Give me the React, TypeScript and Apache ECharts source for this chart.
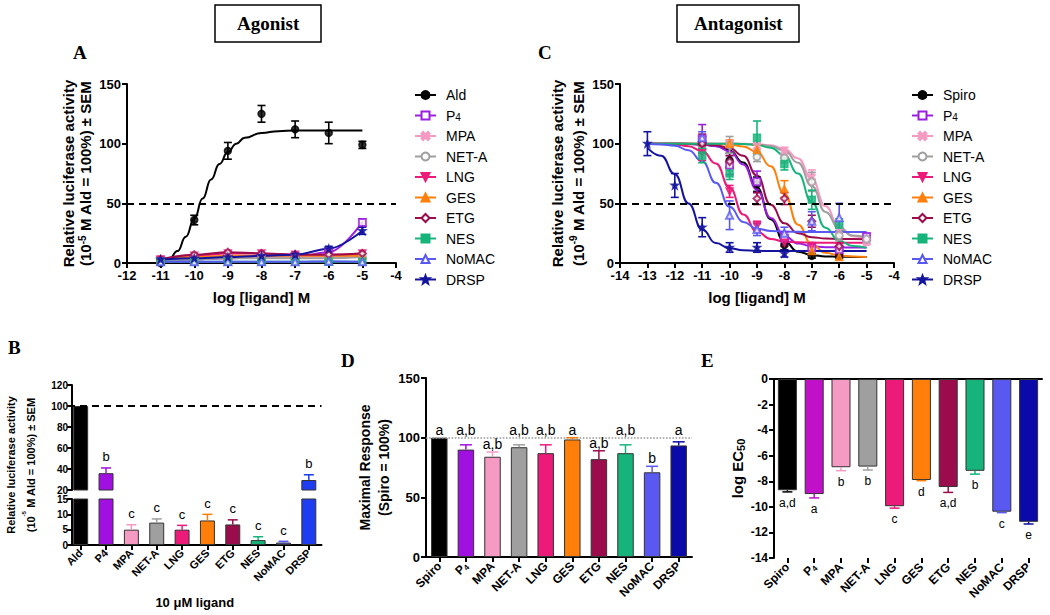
import React, { useEffect, useRef } from 'react';
import * as echarts from 'echarts';

// ---------------- Panel A (agonist) ----------------
const agonistNames = ['Ald', 'P4', 'MPA', 'NET-A', 'LNG', 'GES', 'ETG', 'NES', 'NoMAC', 'DRSP'];
const agonistDoses = [-11, -10, -9, -8, -7, -6, -5];
const aldMean = [0, 36, 94, 125, 112, 109, 99];
const aldSem = [1, 4, 7, 7, 7, 9, 3];
const aldFitX = [-11, -10.75, -10.5, -10.25, -10, -9.75, -9.5, -9.25, -9, -8.75, -8.5, -8, -7.5, -7, -6, -5];
const aldFitY = [0, 3, 10, 22, 37, 54, 70, 83, 93, 100, 105, 109, 110.5, 111, 111, 111];
const agP4Mean = [2, 3, 4, 5, 5, 9, 34];
const agP4Sem = [0.5, 0.5, 1, 1, 1, 2, 3];
const agMPAMean = [3, 4, 5, 5, 5, 5, 6];
const agNETAMean = [2, 3, 4, 4, 4, 4, 5];
const agLNGMean = [3, 6, 8, 8, 7, 7, 8];
const agGESMean = [3, 5, 6, 6, 6, 6, 6];
const agETGMean = [3, 7, 9, 8, 7, 7, 8];
const agNESMean = [1, 1, 1, 1, 1, 1, 1];
const agNoMACMean = [1, 1, 1, 1, 1, 1.5, 1];
const agDRSPMean = [3, 4, 5, 6, 7, 12, 27];
const agDRSPSem = [0.5, 0.5, 1, 1, 1, 2, 3];

// ---------------- Panel C (antagonist) ----------------
const antagonistNames = ['Spiro', 'P4', 'MPA', 'NET-A', 'LNG', 'GES', 'ETG', 'NES', 'NoMAC', 'DRSP'];
const antagFitX = [-13, -12.5, -12, -11.5, -11, -10.5, -10, -9.5, -9, -8.5, -8, -7.5, -7, -6.5, -6, -5.5, -5];
const spiroFit = [100, 100, 99.9, 99.8, 99.4, 98.1, 94.3, 84.2, 63.2, 36.7, 18.0, 9.5, 6.5, 5.5, 5.2, 5.1, 5.0];
const p4Fit = [100, 100, 99.9, 99.8, 99.3, 97.8, 93.6, 82.6, 61.5, 37.8, 22.7, 16.3, 14.1, 13.3, 13.1, 13.0, 13.0];
const mpaFit = [100, 100, 100, 100, 100, 100, 100, 99.9, 99.5, 98.6, 95.6, 87.6, 70.5, 47.5, 30.4, 22.4, 19.4];
const netaFit = [100, 100, 100, 100, 100, 100, 100, 99.8, 99.4, 98.0, 94.1, 84.0, 64.6, 42.8, 29.0, 23.0, 21.0];
const lngFit = [99.9, 99.8, 99.3, 97.9, 93.9, 83.4, 63.2, 40.7, 26.3, 20.2, 18.0, 17.3, 17.1, 17, 17, 17, 17];
const gesFit = [100, 100, 100, 100, 100, 99.8, 99.2, 97.6, 93.0, 81.0, 57.9, 32.1, 15.6, 8.6, 6.2, 5.4, 5.1];
const etgFit = [100, 100, 100, 99.9, 99.6, 98.7, 96.1, 89.8, 73.3, 48.8, 33.3, 25.0, 21.6, 20.5, 20.2, 20.1, 20.0];
const nesFit = [100, 100, 100, 100, 100, 100, 100, 99.7, 98.9, 96.6, 90.1, 74.9, 51.0, 29.6, 18.5, 14.2, 12.7];
const nomacFit = [99.8, 99.4, 98.2, 94.5, 85.2, 67.2, 47.1, 34.3, 28.8, 26.9, 26.3, 26.1, 26, 26, 26, 26, 26];
const drspFit = [96.6, 89.9, 74.4, 49.9, 28.0, 16.7, 12.3, 10.7, 10.2, 10.1, 10, 10, 10, 10, 10, 10, 10];

const spiroPtsX = [-11, -10, -9, -8, -7, -6];
const spiroPtsY = [101, 86, 66, 15, 6, 6];
const spiroPtsE = [5, 6, 6, 4, 2, 2];
const p4PtsX = [-11, -10, -9, -8, -7, -6, -5];
const p4PtsY = [104, 82, 68, 21, 13, 11, 22];
const p4PtsE = [12, 8, 9, 5, 3, 3, 3];
const mpaPtsX = [-10, -9, -8, -7, -6, -5];
const mpaPtsY = [100, 98, 93, 72, 27, 18];
const mpaPtsE = [3, 3, 4, 6, 5, 3];
const netaPtsX = [-10, -9, -8, -7, -6, -5];
const netaPtsY = [99, 89, 88, 68, 23, 20];
const netaPtsE = [7, 4, 4, 8, 4, 3];
const lngPtsX = [-11, -10, -9, -8, -7, -6];
const lngPtsY = [92, 60, 31, 17, 14, 14];
const lngPtsE = [6, 5, 4, 3, 3, 3];
const gesPtsX = [-10, -9, -8, -7, -6];
const gesPtsY = [100, 95, 62, 10, 5];
const gesPtsE = [3, 4, 7, 3, 2];
const etgPtsX = [-11, -10, -9, -8, -7, -6];
const etgPtsY = [100, 85, 54, 54, 35, 14];
const etgPtsE = [8, 5, 5, 5, 5, 3];
const nesPtsX = [-11, -10, -9, -8, -7, -6];
const nesPtsY = [90, 75, 105, 83, 53, 32];
const nesPtsE = [6, 5, 14, 5, 8, 5];
const nomacPtsX = [-11, -10, -9, -8, -7, -6];
const nomacPtsY = [105, 40, 28, 25, 35, 38];
const nomacPtsE = [5, 12, 5, 5, 8, 12];
const drspPtsX = [-13, -12, -11, -10, -9, -8];
const drspPtsY = [100, 65, 30, 13, 13, 8];
const drspPtsE = [10, 10, 8, 4, 4, 3];

// ---------------- Panel B ----------------
const bLabels = ['Ald', 'P4', 'MPA', 'NET-A', 'LNG', 'GES', 'ETG', 'NES', 'NoMAC', 'DRSP'];
const bMean = [100, 36, 5, 7.3, 5, 8, 6.7, 1.6, 0.8, 29.5];
const bSem = [0, 5, 1.6, 1.2, 1.4, 2, 1.5, 1.1, 0.4, 5];
const bLetters = ['', 'b', 'c', 'c', 'c', 'c', 'c', 'c', 'c', 'b'];

// ---------------- Panel D ----------------
const dLabels = ['Spiro', 'P4', 'MPA', 'NET-A', 'LNG', 'GES', 'ETG', 'NES', 'NoMAC', 'DRSP'];
const dMean = [100, 90, 84, 92, 87, 98.5, 82, 87, 71, 93.5];
const dSem = [0, 4, 4, 2, 7, 1.5, 7, 7, 5, 3];
const dLetters = ['a', 'a,b', 'a,b', 'a,b', 'a,b', 'a', 'a,b', 'a,b', 'b', 'a'];

// ---------------- Panel E ----------------
const eLabels = ['Spiro', 'P4', 'MPA', 'NET-A', 'LNG', 'GES', 'ETG', 'NES', 'NoMAC', 'DRSP'];
const eMean = [-8.7, -9.0, -6.9, -6.85, -9.95, -7.9, -8.45, -7.18, -10.38, -11.17];
const eSem = [0.13, 0.3, 0.27, 0.27, 0.15, 0.05, 0.42, 0.26, 0.07, 0.17];
const eLetters = ['a,d', 'a', 'b', 'b', 'c', 'd', 'a,d', 'b', 'c', 'e'];

// ---------------- Styles ----------------
const F = '"Liberation Sans", Arial, Helvetica, sans-serif';
const SERIF = '"Liberation Serif", "Times New Roman", serif';
const X_PATH = 'path://M2,0L5,3L8,0L10,2L7,5L10,8L8,10L5,7L2,10L0,8L3,5L0,2Z';
const STAR_PATH = 'path://M5,0L6.3,3.3L10,3.3L7.1,5.6L8.2,9.5L5,7.3L1.8,9.5L2.9,5.6L0,3.3L3.7,3.3Z';
const compoundColor: Record<string, string> = {
  Ald: '#000000', Spiro: '#000000', P4: '#9a1fe0', MPA: '#f59ac3', 'NET-A': '#9f9f9f',
  LNG: '#ec1a78', GES: '#ff7f0a', ETG: '#9a0c4c', NES: '#16b47a', NoMAC: '#5959f2', DRSP: '#14149e',
};
const compoundSymbol: Record<string, string> = {
  Ald: 'circle', Spiro: 'circle', P4: 'emptyRect', MPA: X_PATH, 'NET-A': 'emptyCircle',
  LNG: 'triangle', GES: 'triangle', ETG: 'emptyDiamond', NES: 'rect', NoMAC: 'emptyTriangle', DRSP: STAR_PATH,
};
const compoundRotate: Record<string, number> = { LNG: 180 };
const bColors = ['#000000', '#a010e0', '#f59ac3', '#9f9f9f', '#ec1a78', '#ff7f0a', '#9a0c4c', '#16b47a', '#5959f2', '#1e3cf0'];
const dColors = ['#000000', '#a010e0', '#f59ac3', '#9f9f9f', '#ec1a78', '#ff7f0a', '#9a0c4c', '#16b47a', '#5959f2', '#0a0aa8'];
const eColors = ['#000000', '#c010c8', '#f59ac3', '#9f9f9f', '#ec1a78', '#ff7f0a', '#9a0c4c', '#16b47a', '#5959f2', '#0a0aa8'];

const axisLine = { show: true, onZero: false, lineStyle: { color: '#000', width: 2 } };
const axisTick = { show: true, length: 5, lineStyle: { color: '#000', width: 2 } };
const lbl = (size: number) => ({ color: '#000', fontFamily: F, fontWeight: 'bold', fontSize: size });
const nameRich = (size: number, lh: number) => ({
  t: { fontFamily: F, fontWeight: 'bold', fontSize: size, color: '#000', lineHeight: lh },
  sup: { fontFamily: F, fontWeight: 'bold', fontSize: size - 5, color: '#000', lineHeight: 9, verticalAlign: 'top' },
  sub: { fontFamily: F, fontWeight: 'bold', fontSize: size - 4, color: '#000', lineHeight: 9, verticalAlign: 'bottom' },
});
const catRich = (size: number) => ({
  b: { fontFamily: F, fontWeight: 'bold', fontSize: size, color: '#000', lineHeight: size + 2 },
  s: { fontFamily: F, fontWeight: 'bold', fontSize: size - 4, color: '#000', lineHeight: 7, verticalAlign: 'bottom' },
});
const catFmt = (v: string) => (v === 'P4' ? '{b|P}{s|4}' : `{b|${v}}`);
const SYM_SIZE = 7;

function pointErrSeries(id: string, xi: number, xs: number[], ys: number[], es: number[], color: string) {
  return {
    type: 'custom', name: id, xAxisIndex: xi, yAxisIndex: xi, silent: true, z: 3,
    data: xs.map((x, i) => [x, ys[i], es[i]]),
    encode: { x: 0, y: 1 },
    renderItem: (params: any, api: any) => {
      const x = api.value(0), y = api.value(1), e = api.value(2);
      const t = api.coord([x, y + e]);
      const b = api.coord([x, y - e]);
      const w = 4;
      const st = { stroke: color, lineWidth: 1.6 };
      return {
        type: 'group',
        children: [
          { type: 'line', shape: { x1: t[0], y1: t[1], x2: b[0], y2: b[1] }, style: st },
          { type: 'line', shape: { x1: t[0] - w, y1: t[1], x2: t[0] + w, y2: t[1] }, style: st },
          { type: 'line', shape: { x1: b[0] - w, y1: b[1], x2: b[0] + w, y2: b[1] }, style: st },
        ],
      };
    },
  };
}

function curveSeries(
  prefix: string, axisIdx: number, name: string, fx: number[], fy: number[],
  px: number[], py: number[], pe: number[] | null, smooth: number, extra: any = {},
) {
  const c = compoundColor[name];
  const sym = compoundSymbol[name];
  const rot = compoundRotate[name] || 0;
  const itemStyle = { color: c, borderColor: c, borderWidth: 1.5 };
  const out: any[] = [
    {
      type: 'line', name, xAxisIndex: axisIdx, yAxisIndex: axisIdx,
      data: fx.map((x, i) => [x, fy[i]]),
      showSymbol: false, symbol: sym, symbolRotate: rot, symbolSize: SYM_SIZE,
      smooth, smoothMonotone: 'x', lineStyle: { color: c, width: 2 }, itemStyle,
      silent: true, z: 2, ...extra,
    },
    {
      type: 'scatter', name: prefix + name + ' points', xAxisIndex: axisIdx, yAxisIndex: axisIdx,
      data: px.map((x, i) => [x, py[i]]), symbol: sym, symbolRotate: rot, symbolSize: SYM_SIZE,
      itemStyle, silent: true, z: 4,
    },
  ];
  if (pe) out.push(pointErrSeries(prefix + name + ' sem', axisIdx, px, py, pe, c));
  return out;
}

function barErrSeries(
  id: string, xi: number, yi: number, mean: number[], sem: number[], letters: string[],
  colors: string[], dir: number, gap: number, fontSize: number, capHalf: number,
  accept: ((v: number) => boolean) | null, levelOf: ((v: number) => number) | null,
) {
  return {
    type: 'custom', name: id, xAxisIndex: xi, yAxisIndex: yi, silent: true, z: 5,
    data: mean.map((v, i) => [i, v, sem[i]]),
    encode: { x: 0, y: 1 },
    renderItem: (params: any, api: any) => {
      const i = params.dataIndex;
      const v = mean[i], e = sem[i];
      const children: any[] = [];
      if (accept && !accept(v)) return { type: 'group', children };
      const end = v + dir * e;
      const p0 = api.coord([i, v]);
      const p1 = api.coord([i, end]);
      const st = { stroke: colors[i], lineWidth: 1.5 };
      if (e > 0) {
        children.push({ type: 'line', shape: { x1: p0[0], y1: p0[1], x2: p1[0], y2: p1[1] }, style: st });
        children.push({ type: 'line', shape: { x1: p1[0] - capHalf, y1: p1[1], x2: p1[0] + capHalf, y2: p1[1] }, style: st });
      }
      if (letters[i]) {
        const lv = levelOf ? levelOf(end) : end;
        const pl = api.coord([i, lv]);
        children.push({
          type: 'text',
          style: {
            text: letters[i], x: pl[0], y: pl[1] - dir * gap, align: 'center', verticalAlign: 'middle',
            fontSize, fontFamily: F, fill: '#000',
          },
        });
      }
      return { type: 'group', children };
    },
  };
}

function buildOption(): any {
  const dashed50 = {
    silent: true, symbol: 'none', label: { show: false },
    lineStyle: { type: [7, 5], color: '#000', width: 1.8 }, data: [{ yAxis: 50 }],
  };

  const agMeans: Record<string, number[]> = {
    P4: agP4Mean, MPA: agMPAMean, 'NET-A': agNETAMean, LNG: agLNGMean, GES: agGESMean,
    ETG: agETGMean, NES: agNESMean, NoMAC: agNoMACMean, DRSP: agDRSPMean,
  };
  const agSems: Record<string, number[] | null> = { P4: agP4Sem, DRSP: agDRSPSem };

  const series: any[] = [];
  // Panel A
  series.push(...curveSeries('A ', 0, 'Ald', aldFitX, aldFitY, agonistDoses, aldMean, aldSem, 0.5, { markLine: dashed50 }));
  agonistNames.slice(1).forEach((n) => {
    const m = agMeans[n];
    series.push(...curveSeries('A ', 0, n, agonistDoses, m, agonistDoses, m, agSems[n] || null, 0.35));
  });

  // Panel C
  const cFits: Record<string, number[]> = {
    Spiro: spiroFit, P4: p4Fit, MPA: mpaFit, 'NET-A': netaFit, LNG: lngFit, GES: gesFit,
    ETG: etgFit, NES: nesFit, NoMAC: nomacFit, DRSP: drspFit,
  };
  const cPts: Record<string, number[][]> = {
    Spiro: [spiroPtsX, spiroPtsY, spiroPtsE], P4: [p4PtsX, p4PtsY, p4PtsE], MPA: [mpaPtsX, mpaPtsY, mpaPtsE],
    'NET-A': [netaPtsX, netaPtsY, netaPtsE], LNG: [lngPtsX, lngPtsY, lngPtsE], GES: [gesPtsX, gesPtsY, gesPtsE],
    ETG: [etgPtsX, etgPtsY, etgPtsE], NES: [nesPtsX, nesPtsY, nesPtsE], NoMAC: [nomacPtsX, nomacPtsY, nomacPtsE],
    DRSP: [drspPtsX, drspPtsY, drspPtsE],
  };
  antagonistNames.forEach((n, k) => {
    const p = cPts[n];
    series.push(...curveSeries('C ', 1, n, antagFitX, cFits[n], p[0], p[1], p[2], 0.5, k === 0 ? { markLine: dashed50 } : {}));
  });

  // Panel B
  series.push({
    type: 'bar', name: 'B upper', xAxisIndex: 2, yAxisIndex: 2, barWidth: '59%', clip: true, silent: true,
    data: bMean.map((v, i) => ({ value: v, itemStyle: { color: bColors[i] } })),
    itemStyle: { borderColor: '#333', borderWidth: 1 },
    markLine: {
      silent: true, symbol: 'none', label: { show: false },
      lineStyle: { type: [7, 5], color: '#000', width: 1.8 }, data: [{ yAxis: 100 }],
    },
  });
  series.push({
    type: 'bar', name: 'B lower', xAxisIndex: 3, yAxisIndex: 3, barWidth: '59%', clip: true, silent: true,
    data: bMean.map((v, i) => ({ value: v, itemStyle: { color: bColors[i] } })),
    itemStyle: { borderColor: '#333', borderWidth: 1 },
  });
  series.push(barErrSeries('B upper sem', 2, 2, bMean, bSem, bLetters, bColors, 1, 11, 13, 5, (v) => v >= 20, null));
  series.push(barErrSeries('B lower sem', 3, 3, bMean, bSem, bLetters, bColors, 1, 11, 13, 5, (v) => v < 20, null));

  // Panel D
  series.push({
    type: 'bar', name: 'D bars', xAxisIndex: 5, yAxisIndex: 5, barWidth: '62%', silent: true,
    data: dMean.map((v, i) => ({ value: v, itemStyle: { color: dColors[i] } })),
    itemStyle: { borderColor: '#333', borderWidth: 1 },
    markLine: {
      silent: true, symbol: 'none', label: { show: false },
      lineStyle: { type: 'dotted', color: '#999', width: 1.6 }, data: [{ yAxis: 100 }],
    },
  });
  series.push(barErrSeries('D sem', 5, 5, dMean, dSem, dLetters, dColors, 1, 8, 14, 6, null, (v) => (v >= 92 ? 100 : v)));

  // Panel E
  series.push({
    type: 'bar', name: 'E bars', xAxisIndex: 6, yAxisIndex: 6, barWidth: '71%', silent: true,
    data: eMean.map((v, i) => ({ value: v, itemStyle: { color: eColors[i] } })),
    itemStyle: { borderColor: '#333', borderWidth: 1 },
  });
  series.push(barErrSeries('E sem', 6, 6, eMean, eSem, eLetters, eColors, -1, 11, 12, 5, null, null));

  const legendRich = {
    n: { fontFamily: F, fontSize: 14, color: '#000', lineHeight: 14 },
    s: { fontFamily: F, fontSize: 10, color: '#000', lineHeight: 7, verticalAlign: 'bottom' },
  };
  const legendFmt = (name: string) => (name === 'P4' ? '{n|P}{s|4}' : `{n|${name}}`);
  const legendBase = {
    orient: 'vertical', itemWidth: 21, itemHeight: 10, itemGap: 6.5, padding: 0, selectedMode: false,
    formatter: legendFmt, textStyle: { fontFamily: F, fontSize: 14, color: '#000', padding: [0, 0, 0, 5], rich: legendRich },
  };

  const panelTitle = (text: string, left: number, top: number) => ({
    text, left, top, padding: 0, textStyle: { fontFamily: SERIF, fontWeight: 'bold', fontSize: 19, color: '#000' },
  });

  const yNameA = (exp: string) => `{t|Relative luciferase activity}\n{t|(10}{sup|${exp}}{t| M Ald = 100%) ± SEM}`;

  return {
    animation: false,
    backgroundColor: '#fff',
    title: [
      {
        text: 'Agonist', left: 215, top: 5, padding: [9, 22, 9, 22], borderColor: '#000', borderWidth: 1.5,
        textStyle: { fontFamily: SERIF, fontWeight: 'bold', fontSize: 19, color: '#000' },
      },
      {
        text: 'Antagonist', left: 677, top: 5, padding: [9, 17, 9, 17], borderColor: '#000', borderWidth: 1.5,
        textStyle: { fontFamily: SERIF, fontWeight: 'bold', fontSize: 19, color: '#000' },
      },
      panelTitle('A', 73, 43),
      panelTitle('C', 538, 43),
      panelTitle('B', 8, 338),
      panelTitle('D', 341, 351),
      panelTitle('E', 701, 351),
    ],
    legend: [
      { ...legendBase, left: 414, top: 88, data: agonistNames },
      { ...legendBase, left: 911, top: 88, data: antagonistNames },
    ],
    grid: [
      { left: 127, top: 84, width: 269, height: 179 },
      { left: 620, top: 84, width: 274, height: 179 },
      { left: 68, top: 385, width: 253.5, height: 105 },
      { left: 68, top: 499, width: 253.5, height: 46 },
      { left: 72, top: 385, width: 250, height: 160 },
      { left: 426, top: 378, width: 266, height: 179 },
      { left: 774, top: 379, width: 268, height: 179 },
    ],
    xAxis: [
      {
        gridIndex: 0, type: 'value', min: -12, max: -4, interval: 1, axisLine, axisTick,
        axisLabel: { ...lbl(13), margin: 6 }, splitLine: { show: false },
        name: 'log [ligand] M', nameLocation: 'middle', nameGap: 27,
        nameTextStyle: { fontFamily: F, fontWeight: 'bold', fontSize: 15, color: '#000' },
      },
      {
        gridIndex: 1, type: 'value', min: -14, max: -4, interval: 1, axisLine, axisTick,
        axisLabel: { ...lbl(13), margin: 6 }, splitLine: { show: false },
        name: 'log [ligand] M', nameLocation: 'middle', nameGap: 27,
        nameTextStyle: { fontFamily: F, fontWeight: 'bold', fontSize: 15, color: '#000' },
      },
      { gridIndex: 2, type: 'category', data: bLabels, show: false },
      {
        gridIndex: 3, type: 'category', data: bLabels, axisLine,
        axisTick: { ...axisTick, alignWithLabel: true },
        axisLabel: { ...lbl(11), rotate: 45, margin: 6, interval: 0 },
        name: '10 μM ligand', nameLocation: 'middle', nameGap: 51,
        nameTextStyle: { fontFamily: F, fontWeight: 'bold', fontSize: 13, color: '#000' },
      },
      { gridIndex: 4, type: 'value', show: false },
      {
        gridIndex: 5, type: 'category', data: dLabels, axisLine,
        axisTick: { ...axisTick, alignWithLabel: true },
        axisLabel: { ...lbl(12), rotate: 45, margin: 7, interval: 0, formatter: catFmt, rich: catRich(12) },
      },
      {
        gridIndex: 6, type: 'category', data: eLabels, position: 'bottom',
        axisLine: { show: false, onZero: false },
        axisTick: { ...axisTick, alignWithLabel: true },
        axisLabel: { ...lbl(12), rotate: 45, margin: 7, interval: 0, formatter: catFmt, rich: catRich(12) },
      },
      {
        gridIndex: 6, type: 'category', data: eLabels, position: 'top', axisLine,
        axisTick: { show: false }, axisLabel: { show: false },
      },
    ],
    yAxis: [
      {
        gridIndex: 0, type: 'value', min: 0, max: 150, interval: 50, axisLine, axisTick,
        axisLabel: { ...lbl(13), margin: 6 }, splitLine: { show: false },
        name: yNameA('-5'), nameLocation: 'middle', nameRotate: 90, nameGap: 33,
        nameTextStyle: { rich: nameRich(15, 17) },
      },
      {
        gridIndex: 1, type: 'value', min: 0, max: 150, interval: 50, axisLine, axisTick,
        axisLabel: { ...lbl(13), margin: 6 }, splitLine: { show: false },
        name: yNameA('-9'), nameLocation: 'middle', nameRotate: 90, nameGap: 31,
        nameTextStyle: { rich: nameRich(15, 21) },
      },
      {
        gridIndex: 2, type: 'value', min: 20, max: 120, interval: 20, offset: -4, axisLine, axisTick,
        axisLabel: { ...lbl(10), margin: 4, lineHeight: 10, padding: [0, 0, 2, 0] }, splitLine: { show: false },
      },
      {
        gridIndex: 3, type: 'value', min: 0, max: 15, interval: 5, offset: -4, axisLine, axisTick,
        axisLabel: { ...lbl(10), margin: 4, lineHeight: 10, padding: [2, 0, 0, 0] }, splitLine: { show: false },
      },
      {
        gridIndex: 4, type: 'value', axisLine: { show: false }, axisTick: { show: false },
        axisLabel: { show: false }, splitLine: { show: false },
        name: yNameA('-5'), nameLocation: 'middle', nameRotate: 90, nameGap: 31,
        nameTextStyle: { rich: nameRich(11, 20) },
      },
      {
        gridIndex: 5, type: 'value', min: 0, max: 150, interval: 50, axisLine, axisTick,
        axisLabel: { ...lbl(13), margin: 6 }, splitLine: { show: false },
        name: '{t|Maximal Response}\n{t|(Spiro = 100%)}', nameLocation: 'middle', nameRotate: 90, nameGap: 33,
        nameTextStyle: { rich: nameRich(14, 19) },
      },
      {
        gridIndex: 6, type: 'value', min: -14, max: 0, interval: 2, axisLine, axisTick,
        axisLabel: { ...lbl(12), margin: 6 }, splitLine: { show: false },
        name: '{t|log EC}{sub|50}', nameLocation: 'middle', nameRotate: 90, nameGap: 28,
        nameTextStyle: { rich: nameRich(15, 18) },
      },
    ],
    series,
  };
}

export default function App() {
  const ref = useRef<HTMLDivElement>(null);
  useEffect(() => {
    document.body.style.margin = '0';
    const chart = echarts.init(ref.current as HTMLDivElement, null, { renderer: 'svg' });
    chart.setOption(buildOption());
    return () => chart.dispose();
  }, []);
  return <div ref={ref} style={{ width: 1050, height: 615, background: '#fff' }} />;
}
